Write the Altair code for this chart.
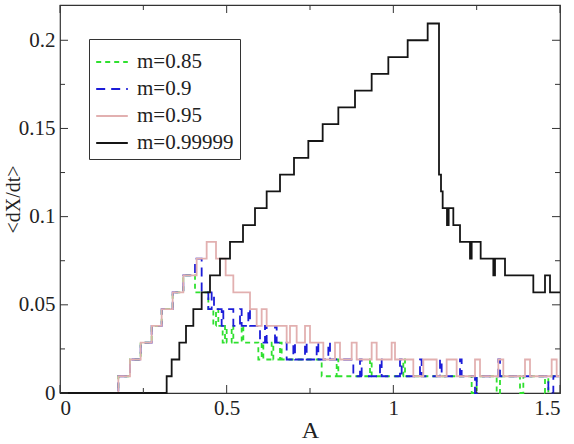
import altair as alt
import pandas as pd

# <dX/dt> as a function of A, one step curve per value of m
series_names = ["m=0.85", "m=0.9", "m=0.95", "m=0.99999"]

a_085 = [0.0, 0.175, 0.21, 0.242, 0.275, 0.305, 0.338, 0.37, 0.405, 0.445, 0.46, 0.468,
         0.475, 0.488, 0.495, 0.50, 0.515, 0.52, 0.545, 0.55, 0.595, 0.605, 0.61, 0.635,
         0.64, 0.66, 0.665, 0.785, 0.83, 0.835, 0.93, 0.935, 1.03, 1.035, 1.235, 1.25,
         1.31, 1.32, 1.38, 1.39, 1.455, 1.465, 1.5]
v_085 = [0.0, 0.0095, 0.019, 0.0286, 0.0381, 0.0476, 0.0571, 0.0667, 0.0571, 0.0476, 0.0381, 0.0476,
         0.0381, 0.0286, 0.0381, 0.0286, 0.0381, 0.0286, 0.0381, 0.0286, 0.019, 0.0286, 0.019, 0.0286,
         0.019, 0.0286, 0.019, 0.0095, 0.019, 0.0095, 0.019, 0.0095, 0.019, 0.0095, 0.0, 0.0095,
         0.0, 0.0095, 0.0, 0.0095, 0.0, 0.0095, 0.0095]

a_09 = [0.0, 0.175, 0.21, 0.242, 0.275, 0.305, 0.338, 0.37, 0.405, 0.425, 0.445, 0.455,
        0.462, 0.485, 0.49, 0.52, 0.54, 0.545, 0.565, 0.57, 0.60, 0.615, 0.62, 0.645,
        0.65, 0.68, 0.70, 0.705, 0.735, 0.74, 0.77, 0.775, 0.805, 0.81, 0.88, 0.90,
        0.905, 0.96, 0.965, 1.02, 1.025, 1.08, 1.085, 1.14, 1.145, 1.20, 1.205, 1.245,
        1.25, 1.315, 1.32, 1.465, 1.48, 1.5]
v_09 = [0.0, 0.0095, 0.019, 0.0286, 0.0381, 0.0476, 0.0571, 0.0667, 0.0762, 0.0571, 0.0476, 0.0571,
        0.0476, 0.0381, 0.0476, 0.0381, 0.0476, 0.0381, 0.0476, 0.0381, 0.0286, 0.0381, 0.0286, 0.0381,
        0.0286, 0.019, 0.0286, 0.019, 0.0286, 0.019, 0.0286, 0.019, 0.0286, 0.019, 0.0095, 0.019,
        0.0095, 0.019, 0.0095, 0.019, 0.0095, 0.019, 0.0095, 0.019, 0.0095, 0.019, 0.0095, 0.0,
        0.0095, 0.019, 0.0095, 0.0, 0.0095, 0.0095]

a_095 = [0.0, 0.175, 0.21, 0.242, 0.275, 0.305, 0.338, 0.37, 0.41, 0.44, 0.468, 0.497,
         0.52, 0.57, 0.59, 0.605, 0.62, 0.68, 0.69, 0.71, 0.735, 0.75, 0.79, 0.825,
         0.84, 0.875, 0.89, 0.935, 0.95, 0.995, 1.005, 1.06, 1.09, 1.13, 1.16, 1.19,
         1.245, 1.26, 1.315, 1.33, 1.395, 1.41, 1.475, 1.49, 1.5]
v_095 = [0.0, 0.0095, 0.019, 0.0286, 0.0381, 0.0476, 0.0571, 0.0667, 0.0762, 0.0857, 0.0762, 0.0667,
         0.0571, 0.0476, 0.0381, 0.0476, 0.0381, 0.0286, 0.0381, 0.0286, 0.0381, 0.0286, 0.019, 0.0286,
         0.019, 0.0286, 0.019, 0.0286, 0.019, 0.0286, 0.019, 0.0095, 0.019, 0.0095, 0.019, 0.0095,
         0.019, 0.0095, 0.019, 0.0095, 0.019, 0.0095, 0.019, 0.0095, 0.0095]

a_099999 = [0.0, 0.32, 0.335, 0.358, 0.378, 0.40, 0.425, 0.45, 0.48, 0.51, 0.549, 0.585,
            0.62, 0.66, 0.702, 0.745, 0.788, 0.835, 0.885, 0.935, 0.985, 1.043, 1.103, 1.137,
            1.143, 1.148, 1.161, 1.166, 1.18, 1.20, 1.23, 1.235, 1.262, 1.30, 1.305, 1.335,
            1.42, 1.455, 1.47, 1.5]
v_099999 = [0.0, 0.0095, 0.019, 0.0286, 0.0381, 0.0476, 0.0571, 0.0667, 0.0762, 0.0857, 0.0952, 0.1048,
            0.1143, 0.1238, 0.1333, 0.1429, 0.1524, 0.1619, 0.1714, 0.181, 0.1905, 0.2, 0.2095, 0.1238,
            0.1143, 0.1048, 0.0952, 0.1048, 0.0952, 0.0857, 0.0762, 0.0857, 0.0762, 0.0667, 0.0762, 0.0667,
            0.0571, 0.0667, 0.0571, 0.0571]

x_major = [0, 0.5, 1.0, 1.5]
x_minor = [0.25, 0.75, 1.25]
y_major = [0, 0.05, 0.1, 0.15, 0.2]
y_minor = [0.025, 0.075, 0.125, 0.175]

line_colors = ["#2fe02f", "#1c1cd8", "#e2b0b0", "#151515"]
line_dashes = [[5, 4], [9, 6], [1, 0], [1, 0]]
line_widths = [1.8, 1.8, 1.4, 2.6]

W, H = 500, 388
FONT = "'Liberation Serif', 'Times New Roman', 'DejaVu Serif', serif"

rows = []
for name, xs, ys in zip(series_names, [a_085, a_09, a_095, a_099999], [v_085, v_09, v_095, v_099999]):
    for a, v in zip(xs, ys):
        rows.append({"A": a, "rate": v, "m": name})
df = pd.DataFrame(rows)

xscale = alt.Scale(domain=[0, 1.5], nice=False, zero=False)
yscale = alt.Scale(domain=[0, 0.22], nice=False, zero=False)

legend = alt.Legend(
    title=None, orient="none", legendX=29, legendY=34,
    strokeColor="#333", fillColor="white", padding=6, cornerRadius=0,
    symbolType="stroke", symbolSize=1000, labelFont=FONT, labelFontSize=21,
    labelColor="#222", rowPadding=-12, labelOffset=8,
)

curves = alt.Chart(df).mark_line(interpolate="step-after").encode(
    x=alt.X("A:Q", scale=xscale, title="A",
            axis=alt.Axis(values=x_major, format="~g", domain=False, ticks=False, grid=False,
                          labelFont=FONT, labelFontSize=21, labelColor="#222", labelPadding=4,
                          titleFont=FONT, titleFontSize=24, titleFontWeight="normal",
                          titleColor="#222", titlePadding=0)),
    y=alt.Y("rate:Q", scale=yscale, title="<dX/dt>",
            axis=alt.Axis(values=y_major, format="~g", domain=False, ticks=False, grid=False,
                          labelFont=FONT, labelFontSize=21, labelColor="#222", labelPadding=5,
                          titleFont=FONT, titleFontSize=20, titleFontWeight="normal",
                          titleColor="#222", titleX=-57, titleBaseline="top")),
    color=alt.Color("m:N", scale=alt.Scale(domain=series_names, range=line_colors), legend=legend),
    strokeDash=alt.StrokeDash("m:N", scale=alt.Scale(domain=series_names, range=line_dashes), legend=legend),
    strokeWidth=alt.StrokeWidth("m:N", scale=alt.Scale(domain=series_names, range=line_widths), legend=legend),
)


def x_ticks(values, length):
    base = alt.Chart(pd.DataFrame({"t": values})).mark_rule(color="#333", strokeWidth=1)
    enc_x = alt.X("t:Q", scale=xscale, title="A")
    return [base.encode(x=enc_x, y=alt.value(H), y2=alt.value(H - length)),
            base.encode(x=enc_x, y=alt.value(0), y2=alt.value(length))]


def y_ticks(values, length):
    base = alt.Chart(pd.DataFrame({"t": values})).mark_rule(color="#333", strokeWidth=1)
    enc_y = alt.Y("t:Q", scale=yscale, title="<dX/dt>")
    return [base.encode(y=enc_y, x=alt.value(0), x2=alt.value(length)),
            base.encode(y=enc_y, x=alt.value(W), x2=alt.value(W - length))]


tick_layers = x_ticks(x_major, 8) + x_ticks(x_minor, 5) + y_ticks(y_major, 8) + y_ticks(y_minor, 5)

chart = alt.layer(curves, *tick_layers).properties(
    width=W, height=H,
    autosize=alt.AutoSizeParams(type="none"),
    padding={"left": 60, "top": 5, "right": 14, "bottom": 51},
    background="white",
).configure_view(stroke="#333", strokeWidth=1.2)

chart.save("out.html", embed_options={"renderer": "svg", "actions": False})
